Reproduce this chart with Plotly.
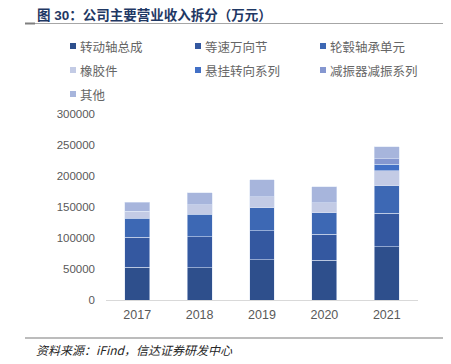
import plotly.graph_objects as go

years = ["2017", "2018", "2019", "2020", "2021"]
series_names = ["转动轴总成", "等速万向节", "轮毂轴承单元", "橡胶件", "悬挂转向系列", "减振器减振系列", "其他"]
zhuandong = [52500, 52400, 65300, 64200, 85500]
dengsu = [49100, 49700, 46500, 41700, 54500]
lungu = [30000, 36300, 37400, 34600, 43900]
xiangjiao = [11700, 15500, 17600, 16700, 24500]
xuangua = [0, 0, 0, 0, 10700]
jianzhen = [0, 0, 0, 0, 8500]
qita = [14400, 19200, 26800, 25700, 19200]
series_values = [zhuandong, dengsu, lungu, xiangjiao, xuangua, jianzhen, qita]
colors = ["#2E4F8C", "#3458A0", "#3D68B4", "#C3CBE5", "#4270C6", "#8597D0", "#A7B5DC"]
y_ticks = [0, 50000, 100000, 150000, 200000, 250000, 300000]

OFF = 8  # page body margin
W, H = 451 - OFF, 364 - OFF
# plot area in reference pixel coordinates: x 106..418, y 114..300
L, T = 106 - OFF, 114 - OFF
R, B = W - (418 - OFF), H - (300 - OFF)
PW, PH = W - L - R, H - T - B

def px2x(px):
    return (px - OFF - L) / PW

def py2y(py):
    return (H - B - (py - OFF)) / PH

fig = go.Figure()
for name, vals, col in zip(series_names, series_values, colors):
    fig.add_trace(go.Bar(
        x=years, y=vals, name=name,
        marker=dict(color=col, line=dict(color="rgba(220,228,245,0.7)", width=0.8)),
        showlegend=False,
    ))

shapes = []
annotations = []
# legend (3 columns)
col_x = [70, 195, 320]
row_y = [46, 70, 94]
for i, (name, col) in enumerate(zip(series_names, colors)):
    r, c = divmod(i, 3)
    mx, my = col_x[c], row_y[r]
    shapes.append(dict(type="rect", xref="paper", yref="paper",
                       x0=px2x(mx), x1=px2x(mx + 6), y0=py2y(my + 3), y1=py2y(my - 3),
                       fillcolor=col, line=dict(width=0)))
    annotations.append(dict(text=name, xref="paper", yref="paper",
                            x=px2x(mx + 8), y=py2y(my), xanchor="left", yanchor="middle",
                            showarrow=False,
                            font=dict(size=12.5, color="#666666", family="Noto Sans CJK SC")))

# title
annotations.append(dict(text="<b>图 30：公司主要营业收入拆分（万元）</b>", xref="paper", yref="paper",
                        x=px2x(36), y=py2y(15), xanchor="left", yanchor="middle", showarrow=False,
                        borderpad=0,
                        font=dict(size=13.5, color="#1F3864",
                                  family="Liberation Sans, Noto Sans CJK SC")))
# title rule
shapes.append(dict(type="line", xref="paper", yref="paper", x0=px2x(25), x1=px2x(451),
                   y0=py2y(23.5), y1=py2y(23.5), line=dict(color="#A6A6A6", width=1)))
shapes.append(dict(type="line", xref="paper", yref="paper", x0=px2x(25), x1=px2x(35),
                   y0=py2y(23.5), y1=py2y(23.5), line=dict(color="#7F7F7F", width=2)))
# footer rule
shapes.append(dict(type="line", xref="paper", yref="paper", x0=px2x(25), x1=px2x(451),
                   y0=py2y(338), y1=py2y(338), line=dict(color="#A6A6A6", width=1.5)))
annotations.append(dict(text="<i>资料来源：iFind，信达证券研发中心</i>", xref="paper", yref="paper",
                        x=px2x(34), y=py2y(349), xanchor="left", yanchor="middle", showarrow=False,
                        font=dict(size=12, color="#262626", family="Noto Sans CJK SC")))

fig.update_layout(
    width=W, height=H, barmode="stack", bargap=0.6,
    margin=dict(l=L, r=R, t=T, b=B, autoexpand=False),
    paper_bgcolor="white", plot_bgcolor="white",
    shapes=shapes, annotations=annotations,
    font=dict(family="Liberation Sans, Arial", color="#595959"),
)
fig.update_xaxes(showline=True, linecolor="#D9D9D9", linewidth=1, ticks="",
                 tickfont=dict(size=12.5, color="#595959"), showgrid=False,
                 ticklabelstandoff=3)
fig.update_yaxes(range=[0, 300000], tickvals=y_ticks, ticktext=[str(v) for v in y_ticks],
                 showgrid=False, zeroline=False, showline=False,
                 tickfont=dict(size=11.5, color="#595959"), ticklabelstandoff=10)

fig.write_html("out.html")
